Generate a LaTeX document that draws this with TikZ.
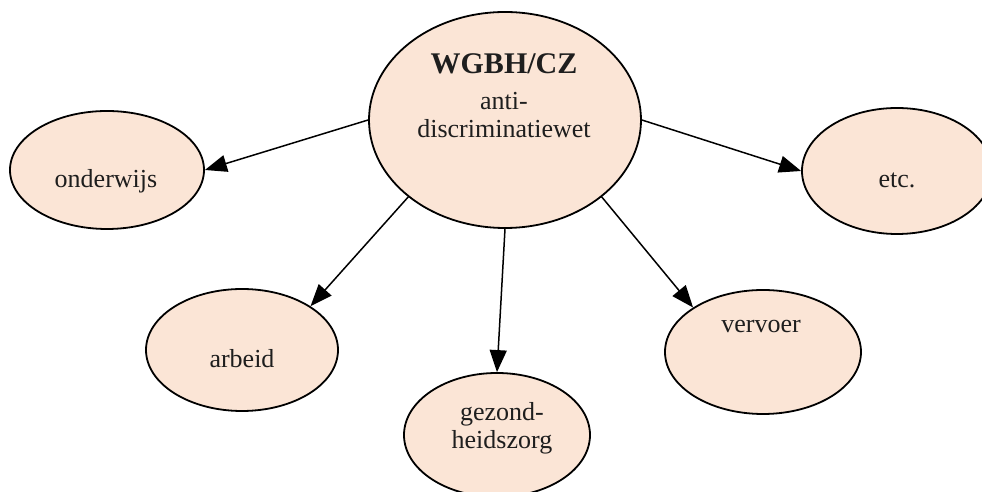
\documentclass[tikz,border=0pt]{standalone}
\usepackage{fontspec}
\setmainfont{Liberation Serif}
\usetikzlibrary{arrows.meta,shapes.geometric}
\definecolor{wgInk}{HTML}{000000}
\definecolor{wgText}{HTML}{1E1E1E}
\definecolor{wgSand}{HTML}{FBE5D6}
\tikzset{
 scheme/.style={line cap=round,line join=round,font=\fontsize{13}{14}\selectfont,text=wgText},
 blob/.style={ellipse,draw=wgInk,fill=wgSand,line width=.9pt,inner sep=0pt},
 tag/.style={anchor=base,inner sep=0pt,align=center},
 link/.style={draw=wgInk,line width=.75pt,-{Triangle[length=11pt,width=8.5pt]}}
}

\begin{document}
\begin{tikzpicture}[scheme,x=.5pt,y=.5pt]
 \useasboundingbox (0,0) rectangle (982,492);
 \begin{scope}
  \clip (0,0) rectangle (982,492);
  % the law in the middle, fields round it
  \node[blob,minimum width=136pt,minimum height=108pt] (law) at (505,372) {};
  \node[blob,minimum width=97pt,minimum height=59pt] (onderwijs) at (107,322) {};
  \node[blob,minimum width=95pt,minimum height=63pt] (etc) at (897,321) {};
  \node[blob,minimum width=96pt,minimum height=61pt] (arbeid) at (242,142) {};
  \node[blob,minimum width=93pt,minimum height=62pt] (zorg) at (497,57) {};
  \node[blob,minimum width=98pt,minimum height=62pt] (vervoer) at (763,140) {};
 \end{scope}
 % multi-line tags sit on the baseline of their last line
 \node[tag] (lawtext) at (504,354) {{\fontsize{15}{16}\selectfont\bfseries WGBH/CZ}\\[4pt]anti-\\discriminatiewet};
 \node[tag] (onderwijstext) at (106,304) {onderwijs};
 \node[tag] (etctext) at (897,304) {etc.};
 \node[tag] (arbeidtext) at (242,124) {arbeid};
 \node[tag] (zorgtext) at (502,43) {gezond-\\heidszorg};
 \node[tag] (vervoertext) at (761,159) {vervoer};
 \draw[link] (law.west) -- (onderwijs.east);
 \draw[link] (law.east) -- (etc.west);
 \draw[link] (law.south west) -- (arbeid.north east);
 \draw[link] (law.south) -- (zorg.north);
 \draw[link] (law.south east) -- (vervoer.north west);
\end{tikzpicture}
\end{document}
